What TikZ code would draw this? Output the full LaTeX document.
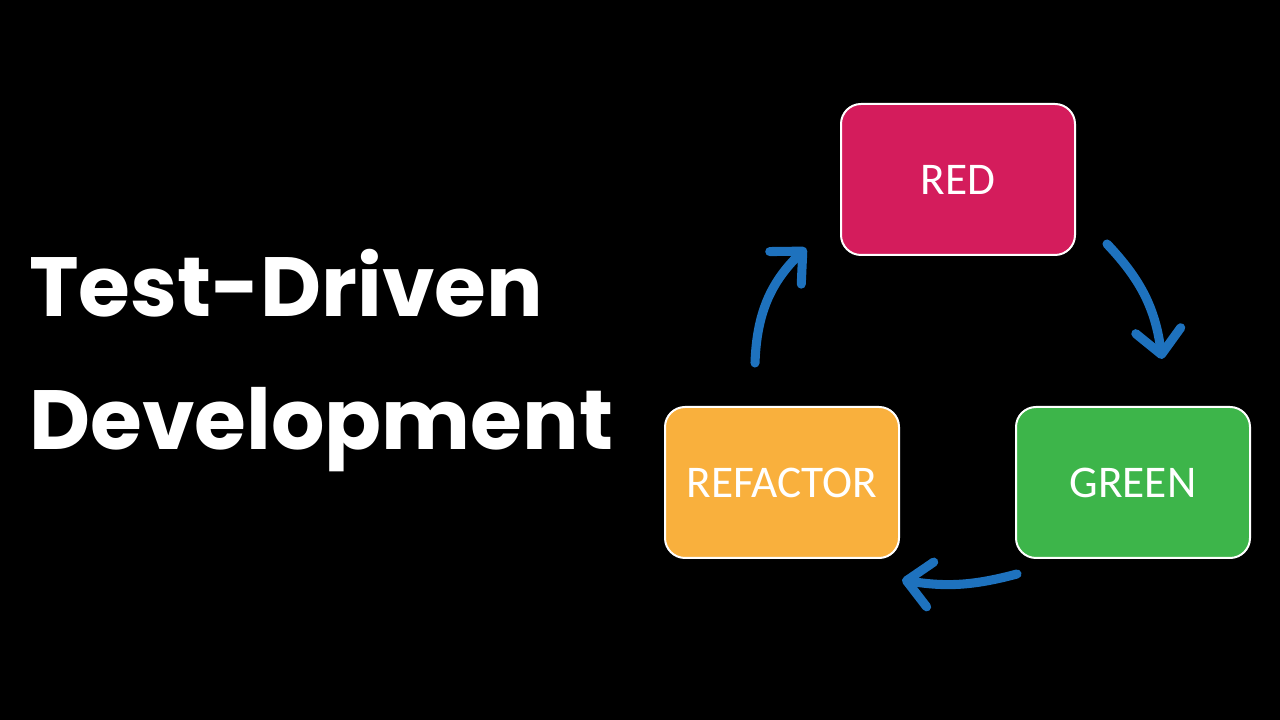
\documentclass[tikz,border=0pt]{standalone}
\usepackage{fontspec}
\setmainfont{Carlito}
\newfontfamily\titlefont{Poppins}
\usetikzlibrary{arrows.meta}
\definecolor{tddred}{HTML}{D41C5C}
\definecolor{tddgreen}{HTML}{3DB54A}
\definecolor{tddorange}{HTML}{F9B03D}
\definecolor{tddblue}{HTML}{1E72BE}
\tikzset{
  phase/.style={draw=white, line width=1.5pt, rounded corners=15pt, minimum width=175.5pt, minimum height=113.25pt, text=white, font=\fontsize{34}{40}\selectfont},
  cyclearrow/.style={draw=tddblue, line width=6.8pt, line cap=round, -{Straight Barb[round, length=18pt, width=34pt]}},
  title/.style={text=white, anchor=base west, inner sep=0pt, font=\titlefont\bfseries\fontsize{63}{70}\selectfont}
}
\begin{document}
\begin{tikzpicture}[x=0.75pt, y=0.75pt]
\fill[black] (0,0) rectangle (1280,720);
\node[title] (t1) at (29,403) {Test-Driven};
\node[title] (t2) at (29,270) {Development};
\node[phase, fill=tddred] (red) at (958,540.5) {RED};
\node[phase, fill=tddgreen] (green) at (1133,237.5) {GREEN};
\node[phase, fill=tddorange] (refactor) at (782,237.5) {REFACTOR};
% arrows
\coordinate (a1s) at (755,357);
\coordinate (a1e) at (806,472);
\coordinate (a2s) at (1107,476);
\coordinate (a2e) at (1162,361);
\coordinate (a3s) at (1017,146);
\coordinate (a3e) at (902,140);
\draw[cyclearrow] (a1s) to[bend left=22] (a1e);
\draw[cyclearrow] (a2s) to[bend left=18] (a2e);
\draw[cyclearrow] (a3s) to[bend left=12] (a3e);
\end{tikzpicture}
\end{document}
